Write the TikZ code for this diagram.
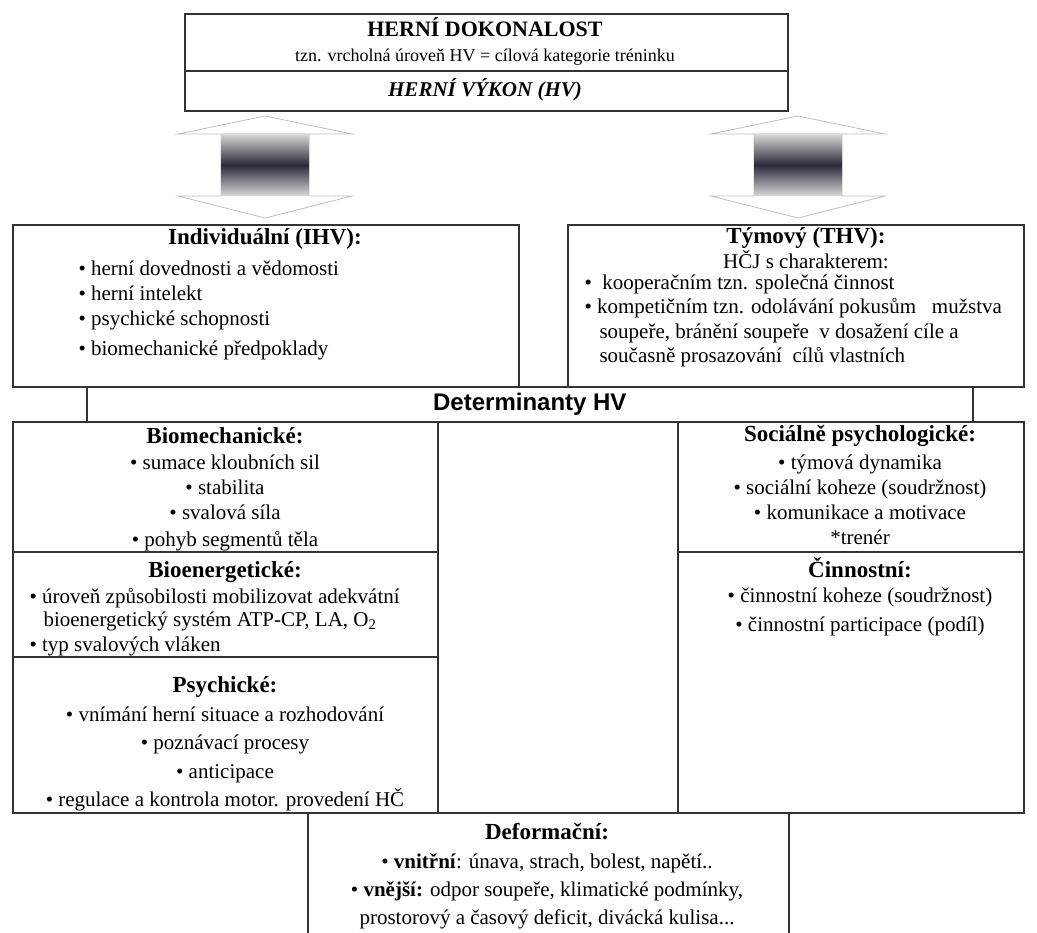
\documentclass[tikz,border=0pt]{standalone}
\usepackage{fontspec}
\setmainfont{Liberation Serif}
\newfontfamily\detfont{Liberation Sans}
\usetikzlibrary{positioning}

\definecolor{shaftdark}{RGB}{42,42,58}

\tikzset{
  cell/.style={rectangle, draw=black!80, line width=1.7pt, anchor=north west, inner sep=0pt},
  head/.style={font=\bfseries\fontsize{23}{27}\selectfont, anchor=base},
  item/.style={font=\fontsize{21}{25}\selectfont, anchor=base},
  itemleft/.style={item, anchor=base west},
  bigarrow/.style={draw=black!25, line width=0.8pt, fill=white},
  shaft/.style={top color=black!15, bottom color=black!15, middle color=shaftdark, draw=none}
}

\begin{document}
\begin{tikzpicture}[x=1pt, y=-1pt]
    \useasboundingbox (0,0) rectangle (1037,933);

    % frames
    \node (dokon) [cell, minimum width=603, minimum height=57] at (184,13) {};
    \node (vykon) [cell, minimum width=603, minimum height=40] at (184,70) {};
    \node (ihv) [cell, minimum width=506, minimum height=162] at (12,224) {};
    \node (thv) [cell, minimum width=456, minimum height=162] at (567,224) {};
    \node (det) [cell, minimum width=886, minimum height=35] at (86,386) {};
    \node (biomech) [cell, minimum width=425, minimum height=130] at (12,421) {};
    \node (bioen) [cell, minimum width=425, minimum height=105] at (12,551) {};
    \node (psych) [cell, minimum width=425, minimum height=156] at (12,656) {};
    \node (mid) [cell, minimum width=240, minimum height=391] at (437,421) {};
    \node (social) [cell, minimum width=346, minimum height=130] at (677,421) {};
    \node (cinn) [cell, minimum width=346, minimum height=261] at (677,551) {};
    \node (deform) [cell, minimum width=481, minimum height=160] at (307,812) {};

    % double arrows
    \coordinate (larr) at (265,116);
    \coordinate (rarr) at (798,116);
    \filldraw[bigarrow] (larr) -- ++(87,18) -- ++(-43,0) -- ++(0,62) -- ++(43,0) -- ++(-87,22) -- ++(-87,-22) -- ++(43,0) -- ++(0,-62) -- ++(-43,0) -- cycle;
    \shade[shaft] ([xshift=-44pt,yshift=-18pt]larr) rectangle ++(88,62);
    \filldraw[bigarrow] (rarr) -- ++(87,18) -- ++(-43,0) -- ++(0,62) -- ++(43,0) -- ++(-87,22) -- ++(-87,-22) -- ++(43,0) -- ++(0,-62) -- ++(-43,0) -- cycle;
    \shade[shaft] ([xshift=-44pt,yshift=-18pt]rarr) rectangle ++(88,62);

    % top
    \node (dokont) [font=\bfseries\fontsize{22}{26}\selectfont, anchor=base] at (485,37) {HERNÍ DOKONALOST};
    \node (dokons) [font=\fontsize{18}{21}\selectfont, anchor=base] at (485,62) {tzn. vrcholná úroveň HV = cílová kategorie tréninku};
    \node (vykont) [font=\bfseries\itshape\fontsize{21}{25}\selectfont, anchor=base] at (485,97) {HERNÍ VÝKON (HV)};

    % individualni
    \node (ihvt) [head] at (265,245) {Individuální (IHV):};
    \node (ihv1) [itemleft] at (75,276) {• herní dovednosti a vědomosti};
    \node (ihv2) [itemleft] at (75,301) {• herní intelekt};
    \node (ihv3) [itemleft] at (75,326) {• psychické schopnosti};
    \node (ihv4) [itemleft] at (75,356) {• biomechanické předpoklady};

    % tymovy
    \node (thvt) [head] at (806,244) {Týmový (THV):};
    \node (thv0) [item] at (806,269) {HČJ s charakterem:};
    \node (thv1) [itemleft] at (581,290) {•\ \ kooperačním tzn. společná činnost};
    \node (thv2) [itemleft] at (581,314) {• kompetičním tzn. odolávání pokusům\ \ \ mužstva};
    \node (thv3) [itemleft] at (596,339) {soupeře, bránění soupeře\ \ v dosažení cíle a};
    \node (thv4) [itemleft] at (596,363) {současně prosazování\ \ cílů vlastních};

    \node (dett) [font=\detfont\bfseries\fontsize{24}{28}\selectfont] at (det) {Determinanty HV};

    % biomechanicke
    \node (biot) [head] at (225,444) {Biomechanické:};
    \node (bio1) [item] at (225,469) {• sumace kloubních sil};
    \node (bio2) [item] at (225,494) {• stabilita};
    \node (bio3) [item] at (225,519) {• svalová síla};
    \node (bio4) [item] at (225,546) {• pohyb segmentů těla};

    % bioenergeticke
    \node (bent) [head] at (225,577) {Bioenergetické:};
    \node (ben1) [itemleft] at (26,603) {• úroveň způsobilosti mobilizovat adekvátní};
    \node (ben2) [itemleft] at (40,626) {bioenergetický systém ATP-CP, LA, O\textsubscript{2}};
    \node (ben3) [itemleft] at (26,651) {• typ svalových vláken};

    % psychicke
    \node (psyt) [head] at (225,692) {Psychické:};
    \node (psy1) [item] at (225,721) {• vnímání herní situace a rozhodování};
    \node (psy2) [item] at (225,749) {• poznávací procesy};
    \node (psy3) [item] at (225,778) {• anticipace};
    \node (psy4) [item] at (225,806) {• regulace a kontrola motor. provedení HČ};

    % socialne psychologicke
    \node (soct) [head] at (860,442) {Sociálně psychologické:};
    \node (soc1) [item] at (860,469) {• týmová dynamika};
    \node (soc2) [item] at (860,494) {• sociální koheze (soudržnost)};
    \node (soc3) [item] at (860,519) {• komunikace a motivace};
    \node (soc4) [item] at (860,544) {*trenér};

    % cinnostni
    \node (cint) [head] at (860,577) {Činnostní:};
    \node (cin1) [item] at (860,602) {• činnostní koheze (soudržnost)};
    \node (cin2) [item] at (860,631) {• činnostní participace (podíl)};

    % deformacni
    \node (deft) [head] at (547,839) {Deformační:};
    \node (def1) [item] at (547,868) {• \textbf{vnitřní}: únava, strach, bolest, napětí..};
    \node (def2) [item] at (547,896) {• \textbf{vnější:} odpor soupeře, klimatické podmínky,};
    \node (def3) [item] at (547,924) {prostorový a časový deficit, divácká kulisa...};
\end{tikzpicture}
\end{document}
